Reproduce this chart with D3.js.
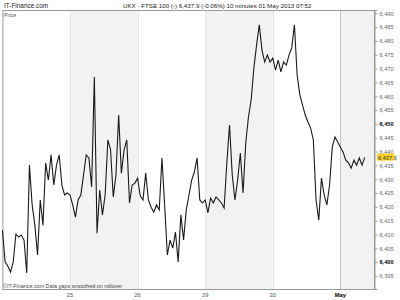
<!DOCTYPE html>
<html>
<head>
<meta charset="utf-8">
<script src="https://d3js.org/d3.v7.min.js"></script>
<style>
  body { margin: 0; background: #fff; }
  text { font-family: "Liberation Sans", Arial, sans-serif; }
</style>
</head>
<body>
<script>
    // trading days shown on the chart
    let dayLabels = ["24", "25", "26", "29", "30", "May"];
    let pointsPerDay = 25;

    // prices (roughly 20 minute steps)
    let prices = [
        6411.6, 6400.1, 6398.6, 6396.4, 6400.1, 6410.2, 6409.1, 6409.8, 6408.0, 6396.1,
        6435.1, 6420.7, 6413.4, 6402.6, 6422.5, 6413.4, 6435.9, 6429.7, 6438.8, 6427.9,
        6435.1, 6438.8, 6427.9, 6424.3, 6425.0,
        6424.3, 6420.7, 6416.3, 6422.5, 6424.3, 6431.5, 6438.8, 6437.7, 6427.2, 6467.0,
        6410.5, 6426.1, 6417.1, 6424.3, 6444.2, 6440.6, 6423.6, 6431.5, 6453.2, 6432.2,
        6440.6, 6444.2, 6421.4, 6427.9, 6428.6,
        6430.4, 6423.9, 6422.5, 6432.2, 6422.5, 6419.9, 6418.1, 6420.7, 6418.9, 6437.7,
        6420.7, 6402.6, 6408.0, 6405.1, 6410.9, 6400.1, 6417.1, 6408.0, 6418.9, 6424.3,
        6429.7, 6432.6, 6437.7, 6422.5, 6421.4,
        6422.5, 6417.8, 6423.2, 6421.4, 6423.6, 6422.5, 6421.4, 6419.6, 6435.9, 6449.6,
        6431.5, 6422.5, 6429.7, 6439.5, 6425.0, 6443.1, 6452.5, 6458.6, 6470.2, 6478.5,
        6485.8, 6476.7, 6472.4, 6474.9, 6472.4,
        6473.8, 6469.5, 6473.1, 6468.8, 6472.4, 6471.3, 6474.9, 6477.5, 6485.8, 6467.7,
        6460.5, 6456.8, 6453.2, 6450.7, 6448.5, 6444.2, 6422.5, 6415.2, 6430.4, 6424.3,
        6420.7, 6427.9, 6441.6, 6445.3, 6443.5,
        6441.6, 6439.8, 6436.9, 6435.9, 6434.0, 6436.9, 6435.1, 6437.7, 6435.1, 6437.9
    ];

    let yTicks = d3.range(6395, 6491, 5);
    let lastPrice = 6437.9;
    let titleText = "UKX - FTSE 100 (-)  6,437.9 (-0.06%)    10 minutes  01 May 2013 07:52";

    let width = 400, height = 300;
    let plot = {left: 2.4, right: 375, top: 10, bottom: 289};

    let svg = d3.select("body").append("svg")
        .attr("width", width)
        .attr("height", height);

    let x = d3.scaleLinear()
        .domain([0, 5.512])
        .range([plot.left, plot.right]);
    let y = d3.scaleLinear()
        .domain([6390.3, 6491.2])
        .range([plot.bottom, plot.top]);

    // alternating day bands
    svg.append("g").selectAll("rect")
        .data(dayLabels.map((d, i) => i).filter(i => i % 2 == 1))
        .join("rect")
        .attr("x", d => x(d))
        .attr("y", plot.top)
        .attr("width", d => Math.min(x(d + 1), plot.right) - x(d))
        .attr("height", plot.bottom - plot.top)
        .attr("fill", "#f2f2f2");

    // day separators
    svg.append("g").selectAll("line")
        .data(d3.range(1, dayLabels.length))
        .join("line")
        .attr("x1", d => Math.round(x(d)) + 0.5)
        .attr("x2", d => Math.round(x(d)) + 0.5)
        .attr("y1", plot.top)
        .attr("y2", plot.bottom)
        .attr("stroke", d => dayLabels[d] == "May" ? "#c4c4c4" : "#e4e4e4");

    // frame
    svg.append("rect")
        .attr("x", plot.left + 0.5)
        .attr("y", plot.top + 0.5)
        .attr("width", plot.right - plot.left - 1)
        .attr("height", plot.bottom - plot.top)
        .attr("fill", "none")
        .attr("stroke", "#9a9a9a");

    // price line
    let line = d3.line()
        .x((d, i) => x(i / pointsPerDay))
        .y(d => y(d));
    svg.append("path")
        .datum(prices)
        .attr("d", line)
        .attr("fill", "none")
        .attr("stroke", "#1a1a1a")
        .attr("stroke-width", 1.1);

    // right axis
    let yAxis = d3.axisRight(y)
        .tickValues(yTicks)
        .tickSize(3)
        .tickPadding(2)
        .tickFormat(d3.format(","));
    let axisG = svg.append("g")
        .attr("transform", `translate(${plot.right - 0.5},0)`)
        .call(yAxis);
    axisG.select(".domain").attr("stroke", "#9a9a9a");
    axisG.selectAll(".tick line").attr("stroke", "#9a9a9a");
    axisG.selectAll(".tick text")
        .style("font-family", "'Liberation Sans', Arial, sans-serif")
        .style("font-size", "5.6px")
        .attr("fill", d => d % 50 == 0 ? "#000" : "#666")
        .style("font-weight", d => d % 50 == 0 ? "bold" : "normal");

    // current price tag
    let tag = svg.append("g").attr("transform", `translate(377,${y(lastPrice)})`);
    tag.append("rect")
        .attr("x", 0).attr("y", -3.8)
        .attr("width", 17).attr("height", 7)
        .attr("fill", "#ffd21f");
    tag.append("text")
        .attr("x", 1).attr("y", 2.2)
        .style("font-size", "5.6px")
        .attr("fill", "#333")
        .text(d3.format(",.1f")(lastPrice));

    // day labels
    svg.append("g").selectAll("text")
        .data(dayLabels.slice(1))
        .join("text")
        .attr("x", (d, i) => x(i + 1))
        .attr("y", 297)
        .attr("text-anchor", "middle")
        .style("font-size", "5.8px")
        .style("font-weight", d => d == "May" ? "bold" : "normal")
        .attr("fill", d => d == "May" ? "#000" : "#555")
        .text(d => d);

    // header texts
    svg.append("text")
        .attr("x", 4).attr("y", 7.5)
        .style("font-size", "6.4px")
        .attr("fill", "#222")
        .text("IT-Finance.com");
    svg.append("text")
        .attr("x", 123).attr("y", 7.5)
        .style("font-size", "6.2px")
        .attr("fill", "#222")
        .text(titleText);
    svg.append("text")
        .attr("x", 4).attr("y", 16.5)
        .style("font-size", "5.4px")
        .attr("fill", "#555")
        .text("Price");
    svg.append("text")
        .attr("x", 3).attr("y", 288)
        .style("font-size", "5.4px")
        .attr("fill", "#444")
        .text("©IT-Finance.com Data gaps smoothed on rollover");
</script>
</body>
</html>
